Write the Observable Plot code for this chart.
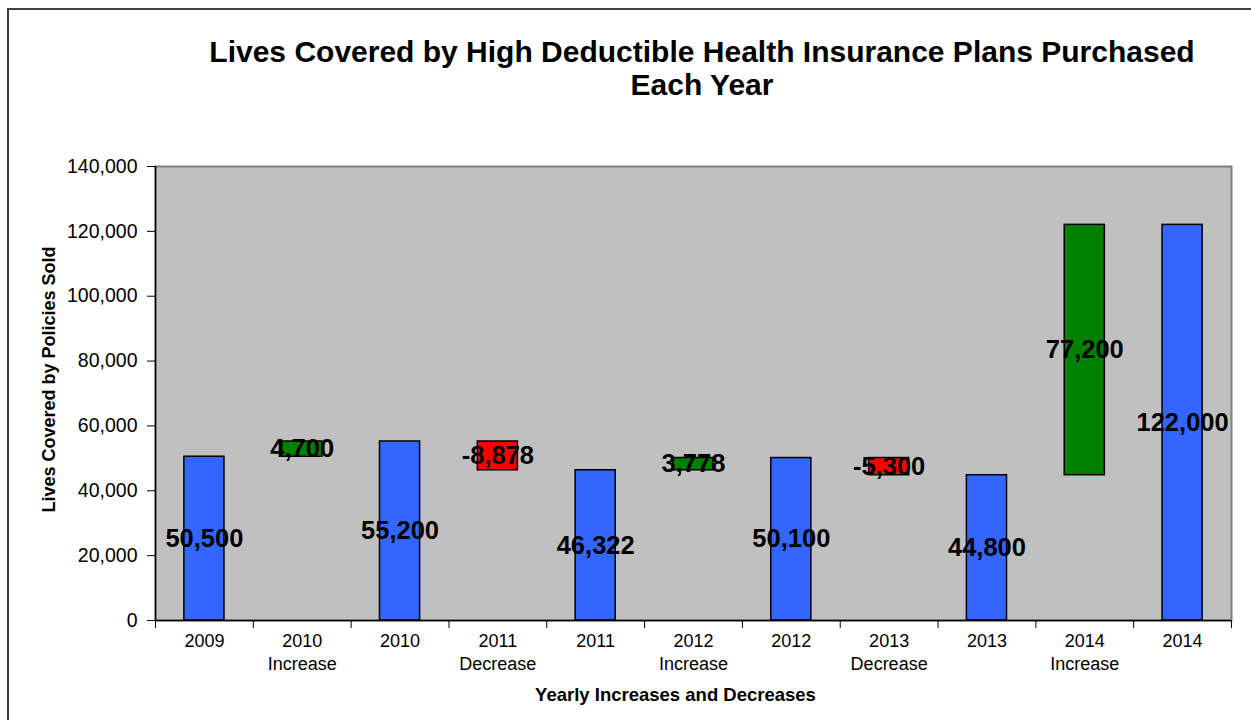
<!DOCTYPE html>
<html>
<head>
<meta charset="utf-8">
<script src="https://cdn.jsdelivr.net/npm/d3@7"></script>
<script src="https://cdn.jsdelivr.net/npm/@observablehq/plot@0.6"></script>
<style>
  body { margin: 0; background: #ffffff; font-family: "Liberation Sans", Arial, sans-serif; }
  #wrap { position: relative; width: 1251px; height: 720px; overflow: hidden; background: #fff; }
  #border { position: absolute; left: 7px; top: 8px; right: -20px; bottom: -20px;
            border-top: 2px solid #404040; border-left: 2px solid #404040; pointer-events: none; }
  #title { height: 140px; box-sizing: border-box; padding-top: 35px; padding-left: 153px;
           text-align: center; font-weight: bold; font-size: 30px; line-height: 33px; color: #000; }
  #chart svg { display: block; overflow: visible; }
</style>
</head>
<body>
<div id="wrap">
  <div id="title">Lives Covered by High Deductible Health Insurance Plans Purchased<br>Each Year</div>
  <div id="chart"></div>
  <div id="border"></div>
</div>
<script>
// ---- data ----
const categories = ["2009", "2010 Increase", "2010", "2011 Decrease", "2011", "2012 Increase",
                    "2012", "2013 Decrease", "2013", "2014 Increase", "2014"];
const tickLabels = ["2009", "2010\nIncrease", "2010", "2011\nDecrease", "2011", "2012\nIncrease",
                    "2012", "2013\nDecrease", "2013", "2014\nIncrease", "2014"];
const yearTotals = [50500, 55200, 46322, 50100, 44800, 122000];
const yearChanges = [4700, -8878, 3778, -5300, 77200];
const yTicks = [0, 20000, 40000, 60000, 80000, 100000, 120000, 140000];
const kinds = ["total", "increase", "decrease"];
const kindColors = ["#3366FF", "#008000", "#FF0000"];

// ---- build waterfall rows ----
const rows = [];
yearTotals.forEach((t, i) => {
  rows.push({cat: categories[2 * i], y1: 0, y2: t, value: t, kind: "total"});
  if (i < yearChanges.length) {
    const c = yearChanges[i];
    rows.push({cat: categories[2 * i + 1], y1: t, y2: t + c, value: c, kind: c >= 0 ? "increase" : "decrease"});
  }
});
const fmt = v => v.toLocaleString("en-US");
const labelOf = Object.fromEntries(categories.map((c, i) => [c, tickLabels[i]]));

const W = 1251, H = 580, ML = 155, MR = 20, MT = 26, MB = 100;
const step = (W - ML - MR) / categories.length;
const font = "'Liberation Sans', Arial, sans-serif";

const chart = Plot.plot({
  width: W, height: H,
  marginLeft: ML, marginRight: MR, marginTop: MT, marginBottom: MB,
  style: {fontFamily: font, background: "transparent", color: "#000", overflow: "visible"},
  x: {domain: categories, paddingInner: 0.59, paddingOuter: 0.295, round: false, axis: null},
  y: {domain: [0, 140000], axis: null},
  color: {domain: kinds, range: kindColors},
  marks: [
    Plot.frame({fill: "#C0C0C0", stroke: "#808080", strokeWidth: 2}),
    Plot.barY(rows, {x: "cat", y1: "y1", y2: "y2", fill: "kind", stroke: "#000", strokeWidth: 1.5}),
    Plot.text(rows, {x: "cat", y: d => (d.y1 + d.y2) / 2, text: d => fmt(d.value),
                     fontSize: 25.5, fontWeight: "bold", fill: "#000"}),
    // axis lines
    Plot.ruleX([0], {x: () => categories[0], dx: -step / 2, stroke: "#000", strokeWidth: 1.5}),
    Plot.ruleY([0], {stroke: "#000", strokeWidth: 1.5}),
    // x ticks at category boundaries
    Plot.ruleX(categories, {x: d => d, y1: 0, y2: 0, insetBottom: -8, dx: -step / 2, stroke: "#000"}),
    Plot.ruleX([categories[categories.length - 1]], {x: d => d, y1: 0, y2: 0, insetBottom: -8, dx: step / 2, stroke: "#000"}),
    // y axis
    Plot.axisY({ticks: yTicks, tickFormat: fmt, tickSize: 8, tickPadding: 10, fontSize: 19.5,
                label: null, stroke: "#000"}),
    // x tick labels
    Plot.text(categories, {x: d => d, text: d => labelOf[d], frameAnchor: "bottom", lineAnchor: "top",
                           dy: 11, fontSize: 18, lineHeight: 1.25, fill: "#000"}),
    // axis titles
    Plot.text(["Yearly Increases and Decreases"], {text: d => d, frameAnchor: "bottom", dy: 80, dx: -18,
                                                   fontSize: 18.5, fontWeight: "bold", fill: "#000"}),
    Plot.text(["Lives Covered by Policies Sold"], {text: d => d, frameAnchor: "left", textAnchor: "middle",
                                                   rotate: -90, dx: -106, dy: -14, fontSize: 18,
                                                   fontWeight: "bold", fill: "#000"})
  ]
});
document.getElementById("chart").appendChild(chart);
</script>
</body>
</html>
